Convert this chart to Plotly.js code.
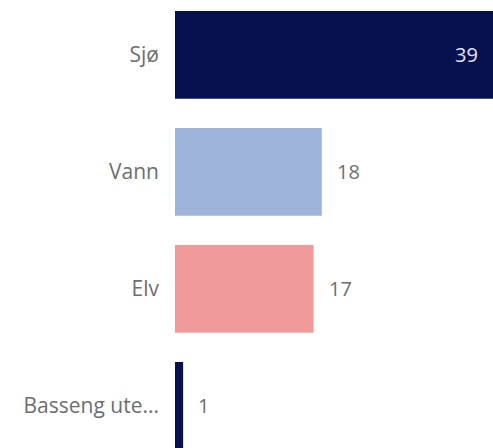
<!DOCTYPE html>
<html>
<head>
<meta charset="utf-8">
<script src="https://cdn.plot.ly/plotly-3.0.1.min.js"></script>
<style>html,body{margin:0;padding:0;background:#fff;}#chart{width:493px;height:448px;}</style>
</head>
<body>
<div id="chart"></div>
<script>
const categories = ["Sjø", "Vann", "Elv", "Basseng ute..."];
const values = [39, 18, 17, 1];
const barColors = ["#07114f", "#9db3da", "#f09a9b", "#07114f"];
const insideThreshold = 30;

const FONT = "Open Sans, Noto Sans, sans-serif";

const trace = {
  type: "bar",
  orientation: "h",
  x: values,
  y: categories,
  marker: {color: barColors, line: {width: 0}},
  hoverinfo: "none"
};

const annotations = values.map((v, i) => {
  const inside = v > insideThreshold;
  return {
    x: v, y: categories[i], xref: "x", yref: "y",
    text: String(v), showarrow: false,
    xanchor: inside ? "right" : "left",
    xshift: inside ? -13 : 13,
    font: {family: FONT, size: 20, color: inside ? "#e4e4ec" : "#6e6e6e"}
  };
});

const layout = {
  width: 493, height: 448,
  margin: {l: 175, r: 0, t: 0, b: 0, pad: 0},
  paper_bgcolor: "#ffffff", plot_bgcolor: "#ffffff",
  bargap: 0.25,
  showlegend: false,
  xaxis: {range: [0, 39], visible: false, fixedrange: true},
  yaxis: {
    type: "category",
    range: [3.36, -0.47],
    showgrid: false, zeroline: false, showline: false,
    ticks: "", ticklabelstandoff: 15,
    tickfont: {family: FONT, size: 21, color: "#6e6e6e"},
    fixedrange: true
  },
  annotations: annotations,
  font: {family: FONT}
};

Plotly.newPlot("chart", [trace], layout, {displayModeBar: false, staticPlot: true});
</script>
</body>
</html>
